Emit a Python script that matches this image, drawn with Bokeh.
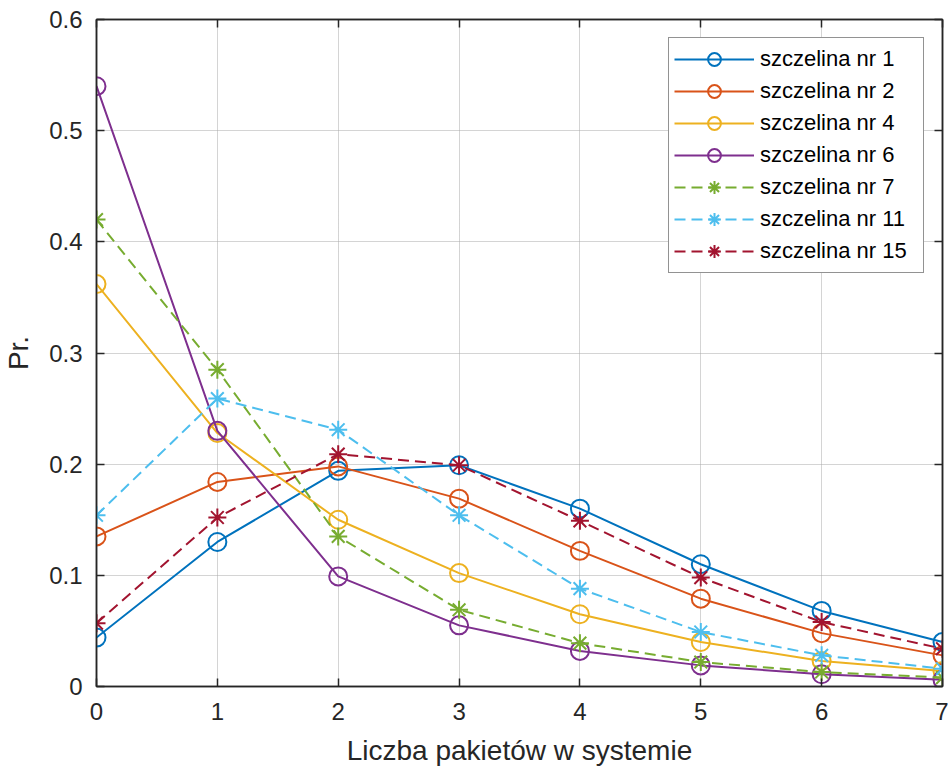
from bokeh.plotting import figure
from bokeh.models import Range1d, LinearAxis, FixedTicker, Legend, LegendItem, CustomJSTickFormatter
from bokeh.embed import file_html
from bokeh.resources import INLINE

x_vals = [0, 1, 2, 3, 4, 5, 6, 7]
s1 = [0.044, 0.130, 0.194, 0.199, 0.160, 0.110, 0.068, 0.040]
s2 = [0.135, 0.184, 0.198, 0.169, 0.122, 0.079, 0.048, 0.028]
s4 = [0.362, 0.228, 0.150, 0.102, 0.065, 0.040, 0.023, 0.014]
s6 = [0.540, 0.230, 0.099, 0.055, 0.032, 0.019, 0.011, 0.006]
s7 = [0.420, 0.285, 0.135, 0.069, 0.039, 0.022, 0.013, 0.008]
s11 = [0.154, 0.259, 0.231, 0.154, 0.088, 0.049, 0.028, 0.016]
s15 = [0.057, 0.152, 0.209, 0.199, 0.149, 0.098, 0.058, 0.034]

labels = ["szczelina nr 1", "szczelina nr 2", "szczelina nr 4", "szczelina nr 6",
          "szczelina nr 7", "szczelina nr 11", "szczelina nr 15"]
series = [s1, s2, s4, s6, s7, s11, s15]
colors = ["#0072BD", "#D95319", "#EDB120", "#7E2F8E", "#77AC30", "#4DBEEE", "#A2142F"]
markers = ["circle", "circle", "circle", "circle", "asterisk", "asterisk", "asterisk"]
dashes = ["solid", "solid", "solid", "solid", "11 6", "11 6", "11 6"]

x_ticks = [0, 1, 2, 3, 4, 5, 6, 7]
y_ticks = [0, 0.1, 0.2, 0.3, 0.4, 0.5, 0.6]
y_tick_labels = ["0", "0.1", "0.2", "0.3", "0.4", "0.5", "0.6"]

FONT = "Liberation Sans"
AX = "#262626"

p = figure(frame_width=846, frame_height=667, output_backend="svg", toolbar_location=None,
           x_range=Range1d(0, 7), y_range=Range1d(0, 0.6),
           min_border_left=95, min_border_top=19, min_border_right=6, min_border_bottom=70)
p.background_fill_color = "white"
p.border_fill_color = "white"
p.outline_line_color = AX
p.outline_line_width = 1.5

for ax in (p.xaxis[0], p.yaxis[0]):
    ax.major_tick_in = 8
    ax.major_tick_out = 0
    ax.minor_tick_in = 0
    ax.minor_tick_out = 0
    ax.axis_line_color = AX
    ax.axis_line_width = 1.5
    ax.major_tick_line_color = AX
    ax.major_tick_line_width = 1.5
    ax.major_label_text_font = FONT
    ax.major_label_text_font_size = "24px"
    ax.major_label_text_color = AX
    ax.axis_label_text_font = FONT
    ax.axis_label_text_font_size = "28px"
    ax.axis_label_text_font_style = "normal"
    ax.axis_label_text_color = AX

p.xaxis[0].ticker = FixedTicker(ticks=x_ticks)
p.yaxis[0].ticker = FixedTicker(ticks=y_ticks)
p.yaxis[0].major_label_overrides = {t: l for t, l in zip(y_ticks, y_tick_labels)}
p.xaxis[0].major_label_standoff = 16
p.yaxis[0].major_label_standoff = 14
p.xaxis[0].axis_label = "Liczba pakietów w systemie"
p.yaxis[0].axis_label = "Pr."
p.xaxis[0].axis_label_standoff = 12
p.yaxis[0].axis_label_standoff = 12

empty = CustomJSTickFormatter(code="return ''")
top = LinearAxis(ticker=FixedTicker(ticks=x_ticks), formatter=empty)
right = LinearAxis(ticker=FixedTicker(ticks=y_ticks), formatter=empty)
for ax in (top, right):
    ax.major_tick_in = 8
    ax.major_tick_out = 0
    ax.minor_tick_in = 0
    ax.minor_tick_out = 0
    ax.axis_line_color = AX
    ax.axis_line_width = 1.5
    ax.major_tick_line_color = AX
    ax.major_tick_line_width = 1.5
    ax.major_label_standoff = 0
    ax.major_label_text_font_size = "1px"
p.add_layout(top, "above")
p.add_layout(right, "right")

p.xgrid.ticker = FixedTicker(ticks=x_ticks)
p.ygrid.ticker = FixedTicker(ticks=y_ticks)
for g in (p.xgrid[0], p.ygrid[0]):
    g.grid_line_color = "#a8a8a8"
    g.grid_line_dash = "1 1"
    g.grid_line_width = 1

items = []
for lab, ys, col, mk, dash in zip(labels, series, colors, markers, dashes):
    r1 = p.line(x_vals, ys, line_color=col, line_width=2, line_dash=dash)
    r2 = p.scatter(x_vals, ys, marker=mk, size=18, line_color=col, line_width=2,
                   fill_color=None if mk == "circle" else col)
    items.append(LegendItem(label=lab, renderers=[r1, r2]))

legend = Legend(items=items, location="top_right")
legend.label_text_font = FONT
legend.label_text_font_size = "22px"
legend.label_text_color = "black"
legend.glyph_width = 80
legend.glyph_height = 32
legend.label_height = 32
legend.label_width = 158
legend.label_standoff = 6
legend.spacing = 0
legend.padding = 5
legend.margin = 18
legend.border_line_color = AX
legend.border_line_width = 1
legend.background_fill_color = "white"
legend.background_fill_alpha = 1
p.add_layout(legend)

open("out.html", "w").write(file_html(p, INLINE))
